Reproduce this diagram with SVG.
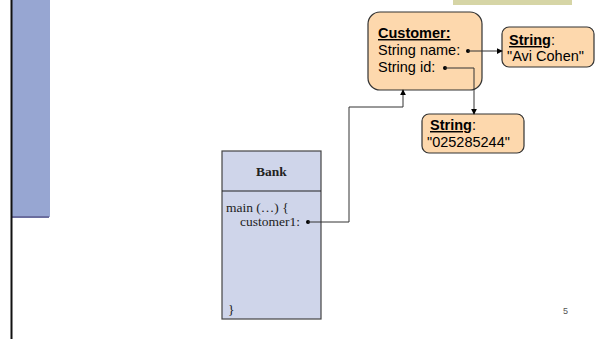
<svg xmlns="http://www.w3.org/2000/svg" width="597" height="339" viewBox="0 0 597 339">
<defs>
<marker id="ah" viewBox="0 0 8 8" refX="7" refY="4" markerWidth="6" markerHeight="6" orient="auto" markerUnits="userSpaceOnUse">
<path d="M0,0 L8,4 L0,8 z" fill="#000"/>
</marker>
<style>
.obj{fill:#fdd8ad;stroke:#333;stroke-width:1.2}
.sans{font-family:"Liberation Sans",Arial,sans-serif;font-size:14.5px;fill:#000}
.serif{font-family:"Liberation Serif","Times New Roman",serif;font-size:13.5px;fill:#222}
.conn{fill:none;stroke:#333;stroke-width:1}
.dot{fill:#000}
</style>
</defs>
<rect x="0" y="0" width="597" height="339" fill="#fff"/>
<rect x="12" y="0" width="38" height="217" fill="#97a6d2"/>
<line x1="12" y1="217" x2="49" y2="217" stroke="#6a6d9e" stroke-width="2"/>
<line x1="11.5" y1="0" x2="11.5" y2="339" stroke="#111" stroke-width="2"/>
<rect x="453" y="0" width="119" height="5" fill="#d6d5a6"/>

<g id="bank">
<rect x="222" y="151" width="99" height="168" fill="#cfd5ea" stroke="#444" stroke-width="1.2"/>
<line x1="222" y1="191" x2="321" y2="191" stroke="#222" stroke-width="1.2"/>
<text class="serif" x="271.5" y="176" text-anchor="middle" font-weight="bold" font-size="16px">Bank</text>
<text class="serif" x="226" y="212">main (…) {</text>
<text class="serif" x="240" y="226">customer1:</text>
<text class="serif" x="228" y="314">}</text>
</g>

<g id="customer">
<rect class="obj" x="368" y="12" width="114" height="78" rx="12"/>
<text class="sans" x="378" y="38" font-weight="bold" text-decoration="underline">Customer:</text>
<text class="sans" x="378" y="55">String name:</text>
<text class="sans" x="378" y="72">String id:</text>
</g>

<g id="string-name">
<rect class="obj" x="502" y="27" width="92" height="40" rx="7"/>
<text class="sans" x="509" y="45"><tspan font-weight="bold" text-decoration="underline">String</tspan>:</text>
<text class="sans" x="507" y="61">"Avi Cohen"</text>
</g>

<g id="string-id">
<rect class="obj" x="422" y="114" width="102" height="39" rx="7"/>
<text class="sans" x="430" y="130"><tspan font-weight="bold" text-decoration="underline">String</tspan>:</text>
<text class="sans" x="427" y="147">"025285244"</text>
</g>

<g id="connectors">
<circle class="dot" cx="308" cy="222" r="2"/>
<polyline class="conn" points="308,222 349,222 349,107 403,107 403,90" marker-end="url(#ah)"/>
<circle class="dot" cx="468" cy="51" r="2"/>
<line class="conn" x1="468" y1="51" x2="502" y2="51" marker-end="url(#ah)"/>
<circle class="dot" cx="445" cy="68" r="2"/>
<polyline class="conn" points="445,68 474,68 474,114" marker-end="url(#ah)"/>
</g>

<text x="563" y="314" font-family="Liberation Sans,Arial,sans-serif" font-size="9px" fill="#555">5</text>
</svg>
